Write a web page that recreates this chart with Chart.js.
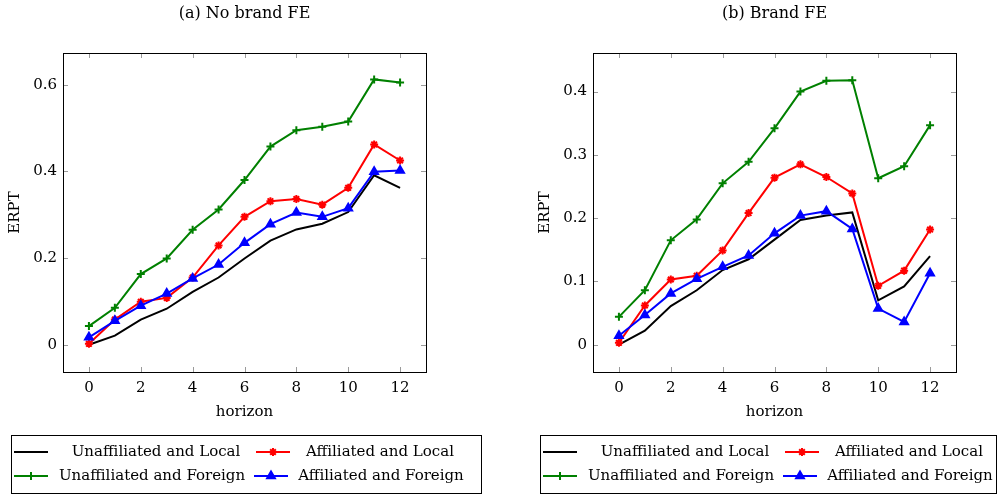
<!DOCTYPE html>
<html>
<head>
<meta charset="utf-8">
<script src="https://cdn.jsdelivr.net/npm/chart.js@4.4.1/dist/chart.umd.min.js"></script>
<style>
  html, body { margin: 0; padding: 0; background: #fff; }
  #wrap { position: relative; width: 999px; height: 496px; overflow: hidden; }
  canvas { position: absolute; top: 0; }
</style>
</head>
<body>
<div id="wrap">
  <canvas id="ca" width="500" height="496" style="left:0"></canvas>
  <canvas id="cb" width="499" height="496" style="left:500px"></canvas>
</div>
<script>
// ---- data ----
const horizon = [0, 1, 2, 3, 4, 5, 6, 7, 8, 9, 10, 11, 12];
const xTickValues = [0, 2, 4, 6, 8, 10, 12];

const seriesNames = ["Unaffiliated and Local", "Affiliated and Local", "Unaffiliated and Foreign", "Affiliated and Foreign"];

// (a) No brand FE
const aUnaffLocal   = [0.000, 0.021, 0.058, 0.083, 0.122, 0.155, 0.199, 0.240, 0.266, 0.279, 0.306, 0.391, 0.362];
const aAffLocal     = [0.002, 0.058, 0.099, 0.108, 0.155, 0.229, 0.295, 0.331, 0.336, 0.323, 0.362, 0.462, 0.425];
const aUnaffForeign = [0.043, 0.085, 0.163, 0.199, 0.265, 0.312, 0.380, 0.457, 0.495, 0.503, 0.515, 0.612, 0.605];
const aAffForeign   = [0.017, 0.055, 0.090, 0.118, 0.153, 0.185, 0.235, 0.278, 0.305, 0.295, 0.315, 0.399, 0.402];
const aYTicks = [0, 0.2, 0.4, 0.6];

// (b) Brand FE
const bUnaffLocal   = [0.000, 0.022, 0.061, 0.086, 0.118, 0.135, 0.166, 0.197, 0.204, 0.209, 0.070, 0.092, 0.140];
const bAffLocal     = [0.003, 0.062, 0.103, 0.109, 0.149, 0.208, 0.264, 0.285, 0.265, 0.239, 0.093, 0.117, 0.182];
const bUnaffForeign = [0.044, 0.086, 0.165, 0.198, 0.255, 0.289, 0.342, 0.400, 0.417, 0.418, 0.263, 0.282, 0.347];
const bAffForeign   = [0.014, 0.047, 0.081, 0.104, 0.123, 0.141, 0.176, 0.204, 0.211, 0.183, 0.057, 0.036, 0.113];
const bYTicks = [0, 0.1, 0.2, 0.3, 0.4];

// ---- styling ----
const FONT = "'DejaVu Serif', 'Liberation Serif', serif";
const styles = [
  { color: '#000000', pointStyle: false, radius: 0, order: 4 },
  { color: '#ff0000', pointStyle: 'star', radius: 4, order: 3 },
  { color: '#008000', pointStyle: 'cross', radius: 4, order: 2 },
  { color: '#0000ff', pointStyle: 'triangle', radius: 4.5, order: 1 },
];

function pts(arr) { return horizon.map((h, i) => ({ x: h, y: arr[i] })); }

function drawMarker(ctx, style, x, y) {
  if (!style.pointStyle) return;
  if (Chart.helpers && Chart.helpers.drawPoint) {
    ctx.save();
    ctx.strokeStyle = style.color; ctx.fillStyle = style.color;
    ctx.lineWidth = 2;
    Chart.helpers.drawPoint(ctx, { pointStyle: style.pointStyle, radius: style.radius, borderWidth: 2, rotation: 0 }, x, y);
    ctx.restore();
  }
}

function frameAndLegendPlugin(cfg) {
  return {
    id: 'frameLegend',
    afterDatasetsDraw(chart) {
      const ctx = chart.ctx;
      const ca = chart.chartArea;
      const xs = chart.scales.x, ys = chart.scales.y;
      ctx.save();
      // inward tick marks
      ctx.strokeStyle = '#9a9a9a';
      ctx.lineWidth = 1;
      ctx.beginPath();
      xs.ticks.forEach(t => {
        const px = Math.round(xs.getPixelForValue(t.value)) + 0.5;
        ctx.moveTo(px, ca.bottom); ctx.lineTo(px, ca.bottom - 5);
        ctx.moveTo(px, ca.top); ctx.lineTo(px, ca.top + 5);
      });
      ys.ticks.forEach(t => {
        const py = Math.round(ys.getPixelForValue(t.value)) + 0.5;
        ctx.moveTo(ca.left, py); ctx.lineTo(ca.left + 5, py);
        ctx.moveTo(ca.right, py); ctx.lineTo(ca.right - 5, py);
      });
      ctx.stroke();
      // frame
      ctx.strokeStyle = '#000';
      ctx.lineWidth = 1;
      ctx.strokeRect(Math.round(ca.left) + 0.5, Math.round(ca.top) + 0.5,
                     Math.round(ca.right - ca.left), Math.round(ca.bottom - ca.top));
      ctx.restore();
    },
    afterDraw(chart) {
      const ctx = chart.ctx;
      const ca = chart.chartArea;
      ctx.save();
      // title
      ctx.fillStyle = '#000';
      ctx.font = '16px ' + FONT;
      ctx.textAlign = 'center';
      ctx.textBaseline = 'middle';
      ctx.fillText(cfg.title, (ca.left + ca.right) / 2, 14);
      // legend box
      const o = cfg.legendOffset;
      ctx.strokeStyle = '#000';
      ctx.lineWidth = 1;
      ctx.strokeRect(o + 11.5, 435.5, cfg.legendWidth, 58);
      const entries = [
        { s: 0, x1: 14, x2: 48, tx: 156, y: 452 },
        { s: 1, x1: 256, x2: 290, tx: 380, y: 452 },
        { s: 2, x1: 14, x2: 48, tx: 152, y: 476 },
        { s: 3, x1: 254, x2: 288, tx: 381, y: 476 },
      ];
      entries.forEach(e => {
        const st = styles[e.s];
        ctx.strokeStyle = st.color;
        ctx.lineWidth = 2;
        ctx.beginPath();
        ctx.moveTo(o + e.x1, e.y); ctx.lineTo(o + e.x2, e.y);
        ctx.stroke();
        drawMarker(ctx, st, o + (e.x1 + e.x2) / 2, e.y);
        ctx.fillStyle = '#000';
        ctx.font = '15px ' + FONT;
        ctx.textAlign = 'center';
        ctx.textBaseline = 'middle';
        ctx.fillText(seriesNames[e.s], o + e.tx, e.y);
      });
      ctx.restore();
    }
  };
}

function makeChart(id, arrays, yTicks, yMin, yMax, padLeft, padRight, cfg) {
  const datasets = arrays.map((arr, i) => ({
    label: seriesNames[i],
    data: pts(arr),
    borderColor: styles[i].color,
    backgroundColor: styles[i].color,
    borderWidth: 2,
    pointStyle: styles[i].pointStyle,
    pointRadius: styles[i].radius,
    pointHoverRadius: styles[i].radius,
    pointBorderWidth: 2,
    tension: 0,
    order: styles[i].order,
    clip: false,
  }));
  return new Chart(document.getElementById(id), {
    type: 'line',
    data: { datasets },
    options: {
      responsive: false,
      animation: false,
      devicePixelRatio: 1,
      layout: { padding: { top: 53, left: padLeft, right: padRight, bottom: 74 } },
      plugins: { legend: { display: false }, tooltip: { enabled: false }, title: { display: false } },
      scales: {
        x: {
          type: 'linear', min: -1, max: 13,
          grid: { display: false, drawTicks: false },
          border: { display: false },
          afterBuildTicks: s => { s.ticks = xTickValues.map(v => ({ value: v })); },
          afterFit: s => { s.height = 50; },
          ticks: { padding: 7, color: '#000', font: { family: FONT, size: 15 }, callback: v => String(v), maxRotation: 0 },
          title: { display: true, text: 'horizon', color: '#000', font: { family: FONT, size: 15 }, padding: { top: 0, bottom: 1 } },
        },
        y: {
          type: 'linear', min: yMin, max: yMax,
          grid: { display: false, drawTicks: false },
          border: { display: false },
          afterBuildTicks: s => { s.ticks = yTicks.map(v => ({ value: v })); },
          afterFit: s => { s.width = 63; },
          ticks: { padding: 6, color: '#000', font: { family: FONT, size: 15 }, callback: v => (v === 0 ? '0' : v.toFixed(1)) },
          title: { display: true, text: 'ERPT', color: '#000', font: { family: FONT, size: 15 }, padding: { top: 6, bottom: 0 } },
        },
      },
    },
    plugins: [frameAndLegendPlugin(cfg)],
  });
}

makeChart('ca', [aUnaffLocal, aAffLocal, aUnaffForeign, aAffForeign], aYTicks, -0.063, 0.673, 0, 74,
  { title: '(a) No brand FE', legendOffset: 0, legendWidth: 470 });
makeChart('cb', [bUnaffLocal, bAffLocal, bUnaffForeign, bAffForeign], bYTicks, -0.0432, 0.461, 30, 43,
  { title: '(b) Brand FE', legendOffset: 29, legendWidth: 456 });
</script>
</body>
</html>
